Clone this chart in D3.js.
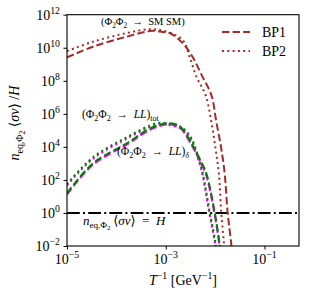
<!DOCTYPE html>
<html><head><meta charset="utf-8">
<script src="https://cdn.jsdelivr.net/npm/d3@7"></script>
<style>body{margin:0;background:#fff}svg{display:block}</style>
</head><body>
<svg id="c" width="310" height="298"></svg>
<script>
// ---- data ----
const redX1 = [1e-5, 3.35e-5, 1.63e-4, 5.46e-4, 8.7e-4, 1.2e-3, 2.2e-3, 3.5e-3, 5.6e-3, 8.4e-3, 1.06e-2, 1.33e-2, 1.56e-2, 1.79e-2, 2.12e-2, 2.3e-2];
const redY1 = [2.6e9, 1.15e10, 4.7e10, 1.07e11, 8.9e10, 7.8e10, 1.9e10, 2.75e9, 1.66e8, 1.35e7, 3.2e5, 8.1e3, 250, 1.12, 1.4e-2, 1e-3];
const redX2 = [1e-5, 3.35e-5, 1.63e-4, 4.75e-4, 9.5e-4, 2.2e-3, 3.05e-3, 4.23e-3, 6.43e-3, 8.4e-3, 1.02e-2, 1.19e-2, 1.33e-2, 1.51e-2, 1.62e-2];
const redY2 = [6.3e9, 2.3e10, 7.8e10, 1.32e11, 1.02e11, 2.95e10, 2.75e9, 1.66e8, 1.35e7, 3.2e5, 8.1e3, 250, 1.12, 1.4e-2, 1e-3];
const totX1 = [1e-5, 3.35e-5, 1.63e-4, 5.46e-4, 1.2e-3, 1.92e-3, 3.5e-3, 5.26e-3, 6.64e-3, 9.8e-3, 1.23e-2, 1.35e-2];
const totY1 = [16, 1e3, 1.66e4, 1.55e5, 2.7e5, 1.78e5, 1.26e4, 1.2e3, 250, 1.12, 1.4e-2, 1e-3];
const totX2 = [1e-5, 3.35e-5, 1.63e-4, 6.6e-4, 1.12e-3, 2.2e-3, 3.3e-3, 4.43e-3, 5.6e-3, 7.75e-3, 1.02e-2, 1.12e-2];
const totY2 = [56, 2.3e3, 3.8e4, 2.7e5, 2.6e5, 1.35e5, 3.3e4, 3.1e3, 250, 1.12, 1.4e-2, 1e-3];
const delX1 = [1e-5, 3.35e-5, 1.63e-4, 5.46e-4, 1.2e-3, 1.92e-3, 3.5e-3, 5.26e-3, 6.64e-3, 9.8e-3, 1.23e-2, 1.35e-2];
const delY1 = [13, 8.2e2, 1.38e4, 1.3e5, 2.25e5, 1.45e5, 9.8e3, 9.0e2, 180, 0.75, 9e-3, 7e-4];
const delX2 = [1e-5, 3.35e-5, 1.63e-4, 6.6e-4, 1.12e-3, 2.2e-3, 3.3e-3, 4.43e-3, 5.6e-3, 7.75e-3, 1.02e-2, 1.12e-2];
const delY2 = [46, 1.9e3, 3.15e4, 2.25e5, 2.15e5, 1.1e5, 2.6e4, 2.4e3, 180, 0.75, 9e-3, 7e-4];
const hubbleY = 1;
const xTicks = [1e-5, 1e-3, 1e-1];
const xTickExp = ["−5", "−3", "−1"];
const yTicks = [1e-2, 1, 1e2, 1e4, 1e6, 1e8, 1e10, 1e12];
const yTickExp = ["−2", "0", "2", "4", "6", "8", "10", "12"];
const legendLabels = ["BP1", "BP2"];

// ---- layout ----
const L = 67, R = 299, T = 14.7, B = 246;
const FF = "'Liberation Serif','DejaVu Serif',serif";
const RED = "#a52a2a", GREEN = "#008000", MAG = "#ff00ff";

const svg = d3.select("#c");
const x = d3.scaleLog().domain([1e-5, 0.5]).range([L, R]);
const y = d3.scaleLog().domain([1e-2, 1e12]).range([B, T]);

svg.append("defs").append("clipPath").attr("id", "clip")
  .append("rect").attr("x", L).attr("y", T).attr("width", R - L).attr("height", B - T);

const g = svg.append("g").attr("clip-path", "url(#clip)");
const line = d3.line().x(d => x(d[0])).y(d => y(d[1])).curve(d3.curveCatmullRom.alpha(0.5));
const zip = (a, b) => a.map((v, i) => [v, b[i]]);

function draw(xs, ys, color, dash, w) {
  g.append("path").datum(zip(xs, ys)).attr("d", line)
    .attr("fill", "none").attr("stroke", color).attr("stroke-width", w)
    .attr("stroke-dasharray", dash);
}
const DASH = "7.4,3.2", DOT = "2,3.3";

g.append("line").attr("x1", L).attr("x2", R).attr("y1", y(hubbleY)).attr("y2", y(hubbleY))
  .attr("stroke", "#000").attr("stroke-width", 2).attr("stroke-dasharray", "12.8,3.2,2,3.2");

draw(delX1, delY1, MAG, DASH, 2);
draw(delX2, delY2, MAG, DOT, 2.2);
draw(totX1, totY1, GREEN, DASH, 2);
draw(totX2, totY2, GREEN, DOT, 2.2);
draw(redX1, redY1, RED, DASH, 2);
draw(redX2, redY2, RED, DOT, 2);

svg.append("rect").attr("x", L).attr("y", T).attr("width", R - L).attr("height", B - T)
  .attr("fill", "none").attr("stroke", "#000").attr("stroke-width", 1.1);

const xa = svg.append("g").attr("transform", `translate(0,${B})`)
  .call(d3.axisBottom(x).tickValues(xTicks).tickSize(3.5).tickFormat(""));
const ya = svg.append("g").attr("transform", `translate(${L},0)`)
  .call(d3.axisLeft(y).tickValues(yTicks).tickSize(3.5).tickFormat(""));
[xa, ya].forEach(a => { a.select(".domain").remove(); a.selectAll("line").attr("stroke", "#000").attr("stroke-width", 1); });

function rich(sel, parts, size) {
  const t = sel.attr("font-family", FF).attr("font-size", size).attr("fill", "#000");
  let shift = 0;
  parts.forEach(p => {
    const [txt, st] = p;
    const sp = t.append("tspan").text(txt);
    let target = 0, fs = size;
    if (st && st.includes("sub2")) { target = size * 0.42; fs = size * 0.55; }
    else if (st && st.includes("sub")) { target = size * 0.25; fs = size * 0.7; }
    else if (st && st.includes("sup")) { target = -size * 0.4; fs = size * 0.7; }
    sp.attr("dy", target - shift).attr("font-size", fs);
    if (st && st.includes("i")) sp.attr("font-style", "italic");
    shift = target;
  });
  return t;
}

xTicks.forEach((v, i) => {
  rich(svg.append("text").attr("x", x(v)).attr("y", 264).attr("text-anchor", "middle"),
    [["10", ""], [xTickExp[i], "sup"]], 14);
});
yTicks.forEach((v, i) => {
  rich(svg.append("text").attr("x", 60).attr("y", y(v) + 4.8).attr("text-anchor", "end"),
    [["10", ""], [yTickExp[i], "sup"]], 14);
});

rich(svg.append("text").attr("x", 183).attr("y", 285).attr("text-anchor", "middle"),
  [["T", "i"], ["−1", "sup"], [" [GeV", ""], ["−1", "sup"], ["]", ""]], 14);
rich(svg.append("text").attr("transform", "translate(19,123) rotate(-90)").attr("text-anchor", "middle"),
  [["n", "i"], ["eq,Φ", "sub"], ["2", "sub2"], [" ⟨", ""], ["σv", "i"], ["⟩ /", ""], ["H", "i"]], 14);

const AR = "\u2002→\u2002";
rich(svg.append("text").attr("x", 101).attr("y", 25),
  [["(Φ", ""], ["2", "sub"], ["Φ", ""], ["2", "sub"], [AR + "SM SM)", ""]], 10.5);
rich(svg.append("text").attr("x", 82).attr("y", 118),
  [["(Φ", ""], ["2", "sub"], ["Φ", ""], ["2", "sub"], [AR, ""], ["LL", "i"], [")", ""], ["tot", "sub"]], 11.5);
rich(svg.append("text").attr("x", 117).attr("y", 155),
  [["(Φ", ""], ["2", "sub"], ["Φ", ""], ["2", "sub"], [AR, ""], ["LL", "i"], [")", ""], ["δ", "sub i"]], 11.5);
rich(svg.append("text").attr("x", 83).attr("y", 225),
  [["n", "i"], ["eq,Φ", "sub"], ["2", "sub2"], ["\u2009⟨", ""], ["σv", "i"], ["⟩\u2002=\u2002", ""], ["H", "i"]], 13);

const leg = [[RED, DASH], [RED, DOT]];
leg.forEach((s, i) => {
  const ly = 32 + i * 19;
  svg.append("line").attr("x1", 222).attr("x2", 250).attr("y1", ly).attr("y2", ly)
    .attr("stroke", s[0]).attr("stroke-width", 2).attr("stroke-dasharray", s[1]);
  rich(svg.append("text").attr("x", 262).attr("y", ly + 4.8), [[legendLabels[i], ""]], 14);
});
</script>
</body></html>
